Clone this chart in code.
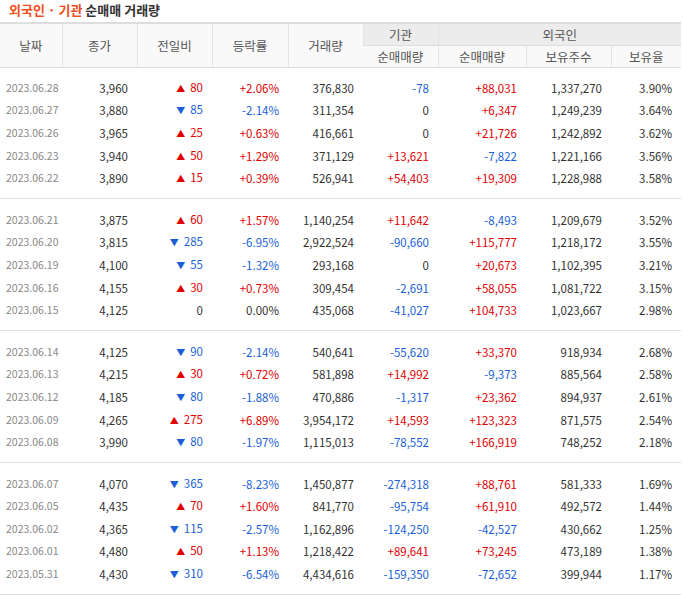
<!DOCTYPE html>
<html><head><meta charset="utf-8">
<script src="https://cdn.jsdelivr.net/npm/chart.js@4"></script>
<style>
body{margin:0;background:#fff;font-family:"Noto Sans CJK KR","Noto Sans",sans-serif;width:683px;}
.title{height:22px;line-height:20px;padding-left:9px;font-size:13px;font-weight:bold;color:#333;}
.title span{color:#f04e1e;}
table{border-collapse:collapse;width:681px;table-layout:fixed;border-top:2px solid #ddd;}
th{font-weight:normal;color:#555;font-size:12.5px;background:#f9f9f9;border-left:1px solid #e3e3e3;border-bottom:1px solid #ddd;height:21px;line-height:16px;padding:0;}
th:first-child{border-left:none}
th.g{background:#ececec;}
td{font-size:11.5px;color:#333;text-align:right;padding:0 9px 0 0;height:22.6px;line-height:16px;box-sizing:border-box;}
td.d{text-align:left;padding-left:6px;color:#888;font-size:10.5px;}
tr.sp td{height:9px;line-height:0;padding:0;}
tr.sep td{border-top:1px solid #ddd;height:10px;line-height:0;padding:0}
.r{color:#e00000}.b{color:#1a5fd6}
.ar{font-size:9px;margin-right:5px}
</style></head><body>
<div class="title"><span>외국인 · 기관</span> 순매매 거래량</div>
<table id="t">
<colgroup><col style="width:62px"><col style="width:75px"><col style="width:75px"><col style="width:76px"><col style="width:75px"><col style="width:75px"><col style="width:88px"><col style="width:85px"><col style="width:70px"></colgroup>
<tr><th rowspan="2">날짜</th><th rowspan="2">종가</th><th rowspan="2">전일비</th><th rowspan="2">등락률</th><th rowspan="2">거래량</th><th class="g">기관</th><th class="g" colspan="3">외국인</th></tr>
<tr><th>순매매량</th><th>순매매량</th><th>보유주수</th><th>보유율</th></tr>
</table>
<script>
const dates=["2023.06.28","2023.06.27","2023.06.26","2023.06.23","2023.06.22","2023.06.21","2023.06.20","2023.06.19","2023.06.16","2023.06.15","2023.06.14","2023.06.13","2023.06.12","2023.06.09","2023.06.08","2023.06.07","2023.06.05","2023.06.02","2023.06.01","2023.05.31"];
const close=[3960,3880,3965,3940,3890,3875,3815,4100,4155,4125,4125,4215,4185,4265,3990,4070,4435,4365,4480,4430];
const change=[80,-85,25,50,15,60,-285,-55,30,0,-90,30,-80,275,-80,-365,70,-115,50,-310];
const rate=[2.06,-2.14,0.63,1.29,0.39,1.57,-6.95,-1.32,0.73,0.00,-2.14,0.72,-1.88,6.89,-1.97,-8.23,1.60,-2.57,1.13,-6.54];
const volume=[376830,311354,416661,371129,526941,1140254,2922524,293168,309454,435068,540641,581898,470886,3954172,1115013,1450877,841770,1162896,1218422,4434616];
const inst=[-78,0,0,13621,54403,11642,-90660,0,-2691,-41027,-55620,14992,-1317,14593,-78552,-274318,-95754,-124250,89641,-159350];
const forNet=[88031,6347,21726,-7822,19309,-8493,115777,20673,58055,104733,33370,-9373,23362,123323,166919,88761,61910,-42527,73245,-72652];
const forHold=[1337270,1249239,1242892,1221166,1228988,1209679,1218172,1102395,1081722,1023667,918934,885564,894937,871575,748252,581333,492572,430662,473189,399944];
const forRate=[3.90,3.64,3.62,3.56,3.58,3.52,3.55,3.21,3.15,2.98,2.68,2.58,2.61,2.54,2.18,1.69,1.44,1.25,1.38,1.17];
const f=n=>n.toLocaleString('en-US');
const sg=n=>n>0?'<span class="r">+'+f(n)+'</span>':n<0?'<span class="b">'+f(n)+'</span>':'0';
let h='';
for(let i=0;i<dates.length;i++){
 if(i%5==0) h+= i==0?'<tr class="sp"><td colspan="9"></td></tr>':'<tr class="sp"><td colspan="9"></td></tr><tr class="sep"><td colspan="9"></td></tr>';
 const c=change[i];
 const cc=c>0?'<span class="r"><span class="ar">▲</span>'+c+'</span>':c<0?'<span class="b"><span class="ar">▼</span>'+(-c)+'</span>':'0';
 const rr=rate[i]>0?'<span class="r">+'+rate[i].toFixed(2)+'%</span>':rate[i]<0?'<span class="b">'+rate[i].toFixed(2)+'%</span>':'0.00%';
 h+=`<tr><td class="d">${dates[i]}</td><td>${f(close[i])}</td><td>${cc}</td><td>${rr}</td><td>${f(volume[i])}</td><td>${sg(inst[i])}</td><td>${sg(forNet[i])}</td><td>${f(forHold[i])}</td><td>${forRate[i].toFixed(2)}%</td></tr>`;
}
h+='<tr class="sp"><td colspan="9"></td></tr><tr class="sep"><td colspan="9"></td></tr>';
document.getElementById('t').insertAdjacentHTML('beforeend',h);
</script>
</body></html>
